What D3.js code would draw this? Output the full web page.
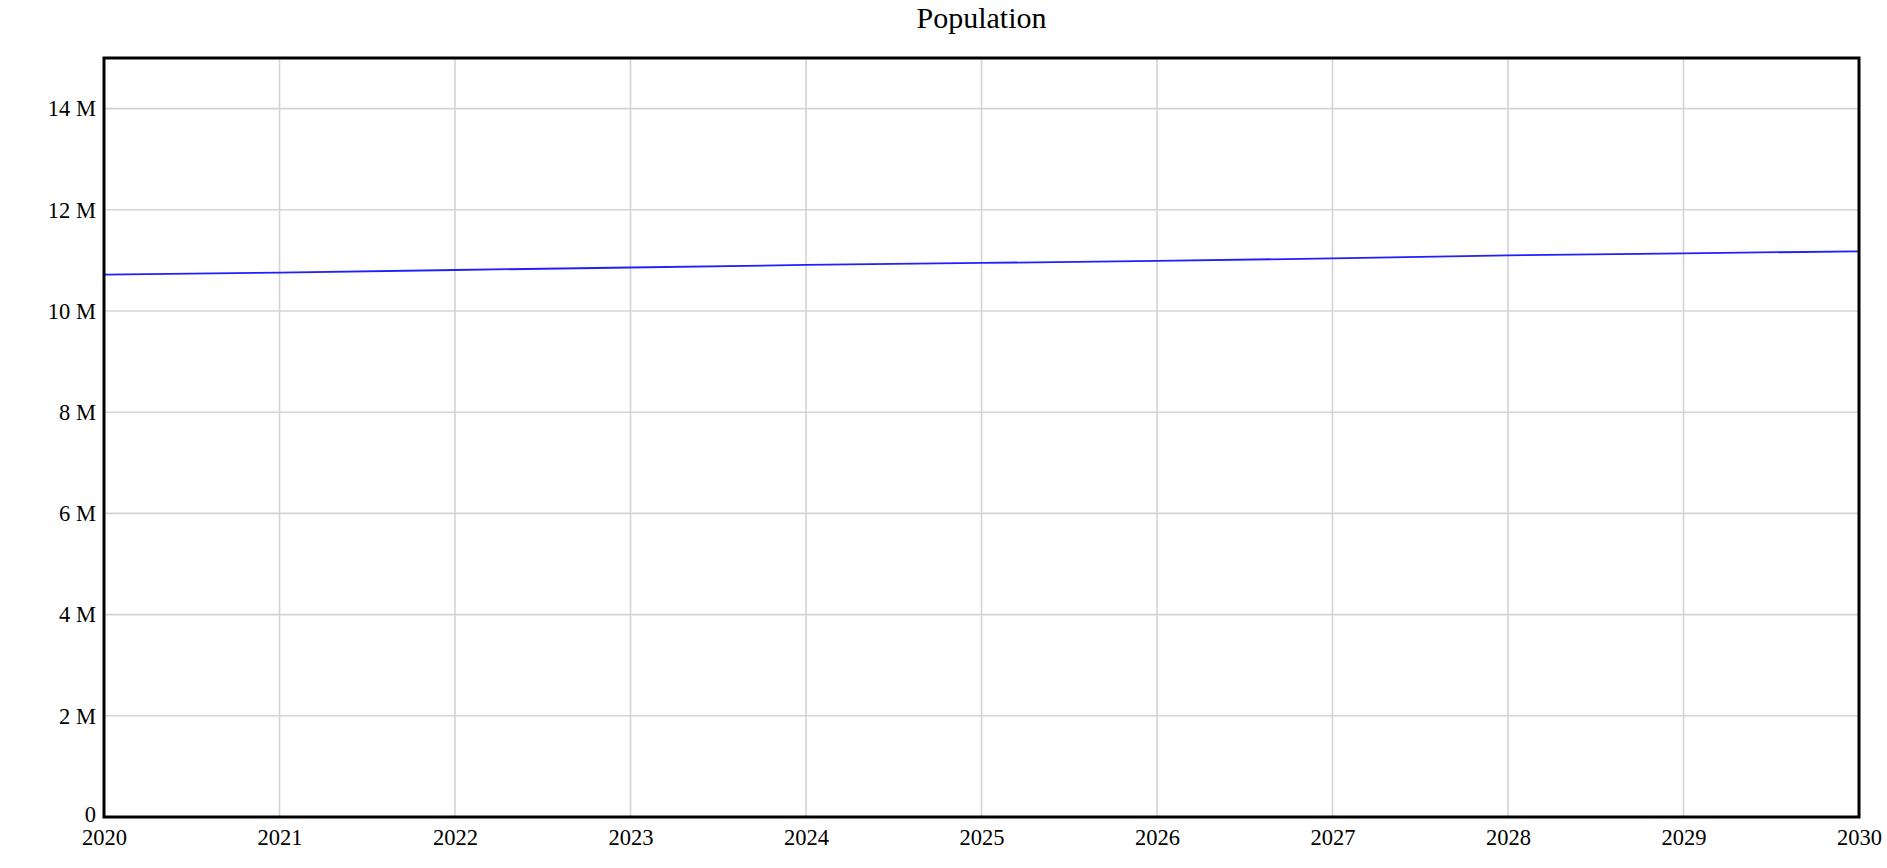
<!DOCTYPE html>
<html>
<head>
<meta charset="utf-8">
<script src="https://cdn.jsdelivr.net/npm/d3@7"></script>
<style>
  html, body { margin: 0; padding: 0; background: #fff; }
  svg { display: block; }
  text { font-family: "Liberation Serif", "Times New Roman", serif; fill: #000; }
</style>
</head>
<body>
<svg id="chart" width="1887" height="868"></svg>
<script>
const title = "Population";
const years = [2020, 2021, 2022, 2023, 2024, 2025, 2026, 2027, 2028, 2029, 2030];
const population = [10.72e6, 10.76e6, 10.81e6, 10.86e6, 10.91e6, 10.95e6, 10.99e6, 11.04e6, 11.10e6, 11.14e6, 11.18e6];
const yTicks = [0, 2e6, 4e6, 6e6, 8e6, 10e6, 12e6, 14e6];
const xTicks = [2020, 2021, 2022, 2023, 2024, 2025, 2026, 2027, 2028, 2029, 2030];

const W = 1887, H = 868;
const m = { left: 104, right: 28, top: 58, bottom: 51 };
const svg = d3.select("#chart");

const x = d3.scaleLinear().domain([2020, 2030]).range([m.left, W - m.right]);
const y = d3.scaleLinear().domain([0, 15e6]).range([H - m.bottom, m.top]);

// gridlines
const grid = svg.append("g");
grid.selectAll("line.h").data(yTicks.filter(d => d > 0)).join("line")
  .attr("x1", m.left).attr("x2", W - m.right)
  .attr("y1", d => y(d)).attr("y2", d => y(d))
  .attr("stroke", "#d4d4d4").attr("stroke-width", 1.6);
grid.selectAll("line.v").data(xTicks.filter(d => d > 2020 && d < 2030)).join("line")
  .attr("y1", m.top).attr("y2", H - m.bottom)
  .attr("x1", d => x(d)).attr("x2", d => x(d))
  .attr("stroke", "#d4d4d4").attr("stroke-width", 1.6);

// line
const line = d3.line().x((d, i) => x(years[i])).y(d => y(d));
svg.append("path").datum(population)
  .attr("d", line).attr("fill", "none")
  .attr("stroke", "#2020ff").attr("stroke-width", 1.8);

// axes (labels only)
const yAxis = d3.axisLeft(y).tickValues(yTicks).tickSize(0).tickPadding(8)
  .tickFormat(d => d === 0 ? "0" : (d / 1e6) + " M");
const ya = svg.append("g").attr("transform", `translate(${m.left},0)`).call(yAxis);
ya.select(".domain").remove();
ya.selectAll("text").style("font-family", "'Liberation Serif', serif").style("font-size", "22.5px").attr("fill", "#111");
ya.selectAll(".tick").filter(d => d === 0).select("text").attr("dy", "0.18em");

const xAxis = d3.axisBottom(x).tickValues(xTicks).tickSize(0).tickPadding(12)
  .tickFormat(d3.format("d"));
const xa = svg.append("g").attr("transform", `translate(0,${H - m.bottom})`).call(xAxis);
xa.select(".domain").remove();
xa.selectAll("text").style("font-family", "'Liberation Serif', serif").style("font-size", "22.5px").attr("fill", "#111");

// border
svg.append("rect")
  .attr("x", m.left).attr("y", m.top)
  .attr("width", W - m.left - m.right).attr("height", H - m.top - m.bottom)
  .attr("fill", "none").attr("stroke", "#000").attr("stroke-width", 3);

// title
svg.append("text").attr("x", (m.left + W - m.right) / 2).attr("y", 28)
  .attr("text-anchor", "middle")
  .style("font-size", "30px").text(title);
</script>
</body>
</html>
